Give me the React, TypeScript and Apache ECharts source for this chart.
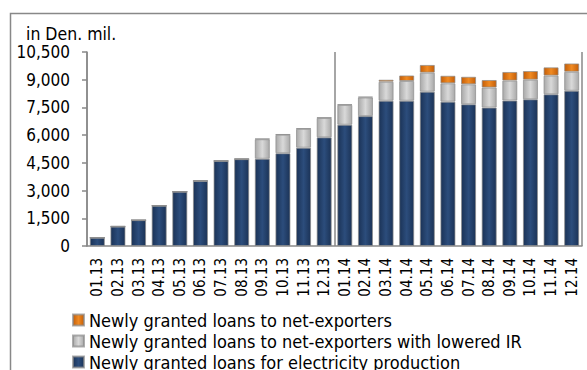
import React, { useEffect, useRef } from "react";
import * as echarts from "echarts";

const months = [
  "01.13", "02.13", "03.13", "04.13", "05.13", "06.13", "07.13", "08.13", "09.13", "10.13", "11.13", "12.13",
  "01.14", "02.14", "03.14", "04.14", "05.14", "06.14", "07.14", "08.14", "09.14", "10.14", "11.14", "12.14",
];
const electricity = [450, 1050, 1400, 2180, 2940, 3520, 4600, 4700, 4720, 5020, 5320, 5880, 6560, 7030, 7860, 7860, 8350, 7810, 7670, 7490, 7870, 7940, 8210, 8400];
const loweredIR = [0, 0, 0, 0, 0, 0, 0, 0, 1060, 1000, 1020, 1050, 1075, 1010, 1030, 1070, 1030, 995, 1080, 1085, 1080, 1060, 1010, 1030];
const netExporters = [0, 30, 0, 20, 0, 50, 40, 40, 30, 30, 30, 30, 35, 40, 110, 300, 420, 410, 410, 410, 470, 470, 450, 450];
const yTicks = { min: 0, max: 10500, interval: 1500 };
const seriesNames = [
  "Newly granted loans to net-exporters",
  "Newly granted loans to net-exporters with lowered IR",
  "Newly granted loans for electricity production",
];

const FONT = "'DejaVu Sans Condensed', 'DejaVu Sans', sans-serif";

const hGrad = (edge: string, mid: string) =>
  new echarts.graphic.LinearGradient(0, 0, 1, 0, [
    { offset: 0, color: edge },
    { offset: 0.5, color: mid },
    { offset: 1, color: edge },
  ]);

export default function App() {
  const ref = useRef<HTMLDivElement>(null);
  useEffect(() => {
    if (!ref.current) return;
    const chart = echarts.init(ref.current, null, { renderer: "svg" });
    const border = { borderColor: "rgba(140,140,140,0.7)", borderWidth: 1 };
    chart.setOption({
      animation: false,
      backgroundColor: "#fff",
      textStyle: { fontFamily: FONT, color: "#000" },
      title: {
        text: "in Den. mil.",
        left: 26,
        top: 25,
        padding: 0,
        textStyle: { fontFamily: FONT, fontSize: 17.5, fontWeight: "normal", color: "#000" },
      },
      graphic: [
        {
          type: "rect",
          shape: { x: 10.5, y: 13.5, width: 700, height: 500 },
          style: { fill: "none", stroke: "#888", lineWidth: 1.5 },
          silent: true,
          z: -10,
        },
      ],
      legend: {
        orient: "vertical",
        left: 72,
        top: 311,
        height: 120,
        padding: 0,
        itemWidth: 11,
        itemHeight: 11,
        itemGap: 3,
        icon: "rect",
        data: seriesNames,
        textStyle: { fontFamily: FONT, fontSize: 18, lineHeight: 18, color: "#000" },
      },
      grid: { left: 87, right: 5, top: 52, bottom: 124, containLabel: false },
      xAxis: [
        {
          type: "category",
          data: months,
          boundaryGap: true,
          axisLine: { show: true, lineStyle: { color: "#888", width: 1.5 } },
          axisTick: { show: false },
          axisLabel: { rotate: 90, margin: 12, fontSize: 15, fontFamily: FONT, color: "#000", interval: 0 },
          splitLine: { show: false },
        },
        {
          type: "value",
          min: 0,
          max: months.length,
          interval: 12,
          position: "bottom",
          show: true,
          axisLine: { show: false },
          axisTick: { show: false },
          axisLabel: { show: false },
          splitLine: { show: true, lineStyle: { color: "#888", width: 1.5 } },
        },
      ],
      yAxis: {
        type: "value",
        min: yTicks.min,
        max: yTicks.max,
        interval: yTicks.interval,
        axisLine: { show: true, lineStyle: { color: "#888", width: 1.5 } },
        axisTick: { show: true, length: 5, lineStyle: { color: "#888", width: 1.5 } },
        axisLabel: {
          margin: 17,
          fontSize: 17,
          fontFamily: FONT,
          color: "#000",
          formatter: (v: number) => v.toLocaleString("en-US"),
        },
        splitLine: { show: false },
      },
      series: [
        {
          name: seriesNames[2],
          type: "bar",
          stack: "total",
          barCategoryGap: "27%",
          data: electricity,
          itemStyle: { color: hGrad("#1b3357", "#2c4d7c"), ...border },
        },
        {
          name: seriesNames[1],
          type: "bar",
          stack: "total",
          barCategoryGap: "27%",
          data: loweredIR,
          itemStyle: { color: hGrad("#a9a9a9", "#d9d9d9"), ...border },
        },
        {
          name: seriesNames[0],
          type: "bar",
          stack: "total",
          barCategoryGap: "27%",
          data: netExporters,
          itemStyle: { color: hGrad("#c45e08", "#f08a22"), ...border },
        },
      ],
    });
    return () => chart.dispose();
  }, []);
  return (
    <div
      ref={ref}
      style={{ position: "fixed", left: 0, top: 0, width: 587, height: 370 }}
    />
  );
}
